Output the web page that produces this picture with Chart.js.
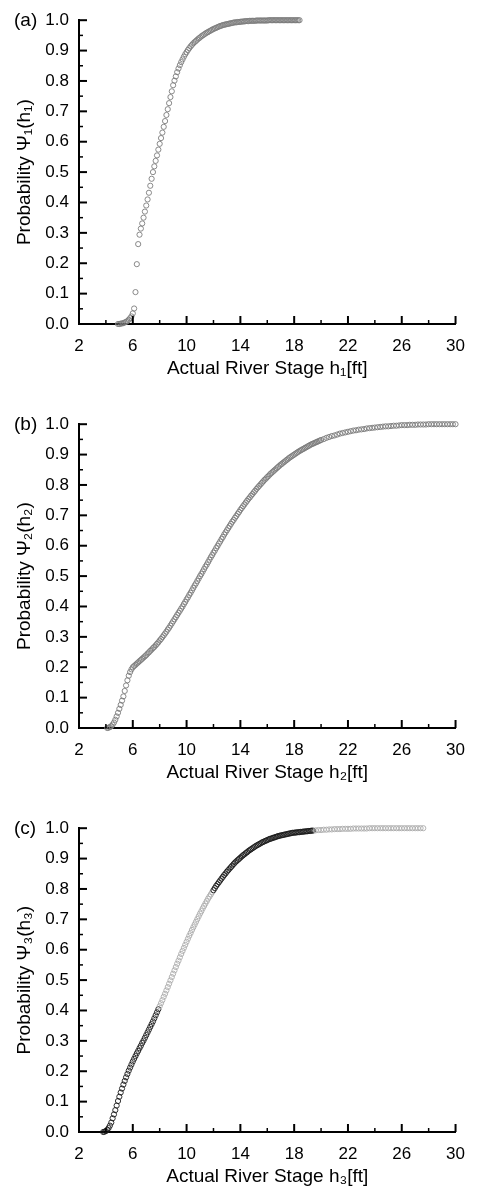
<!DOCTYPE html>
<html><head><meta charset="utf-8">
<script src="https://cdn.jsdelivr.net/npm/chart.js@4.4.0/dist/chart.umd.min.js"></script>
<style>
html,body{margin:0;padding:0;background:#fff;}
#wrap{position:relative;width:477px;height:1189px;overflow:hidden;background:#fff;}
.panel{position:absolute;left:0;width:477px;height:381px;}
canvas{display:block;}
</style></head><body>
<div id="wrap">
<div class="panel" style="top:0px"><canvas id="ca" width="477" height="381"></canvas></div>
<div class="panel" style="top:404px"><canvas id="cb" width="477" height="381"></canvas></div>
<div class="panel" style="top:808px"><canvas id="cc" width="477" height="381"></canvas></div>
</div>
<script>
// ---- tick labels ----
const xTicks = [2, 6, 10, 14, 18, 22, 26, 30];
const yTicks = [0, 0.1, 0.2, 0.3, 0.4, 0.5, 0.6, 0.7, 0.8, 0.9, 1.0];

// ---- panel (a): stage h1 [ft] and probability Psi1 ----
const stageA = [4.9,
  5.0,5.1,5.2,5.3,5.4,5.5,5.6,5.7,5.8,5.9,
  6.0,6.1,6.2,6.3,6.4,6.5,6.6,6.7,6.8,6.9,
  7.0,7.1,7.2,7.3,7.4,7.5,7.6,7.7,7.8,7.9,
  8.0,8.1,8.2,8.3,8.4,8.5,8.6,8.7,8.8,8.9,
  9.0,9.1,9.2,9.3,9.4,9.5,9.6,9.7,9.8,9.9,
  10.0,10.1,10.2,10.3,10.4,10.5,10.6,10.7,10.8,10.9,
  11.0,11.1,11.2,11.3,11.4,11.5,11.6,11.7,11.8,11.9,
  12.0,12.1,12.2,12.3,12.4,12.5,12.6,12.7,12.8,12.9,
  13.0,13.1,13.2,13.3,13.4,13.5,13.6,13.7,13.8,13.9,
  14.0,14.1,14.2,14.3,14.4,14.5,14.6,14.7,14.8,14.9,
  15.0,15.1,15.2,15.3,15.4,15.5,15.6,15.7,15.8,15.9,
  16.0,16.1,16.2,16.3,16.4,16.5,16.6,16.7,16.8,16.9,
  17.0,17.1,17.2,17.3,17.4,17.5,17.6,17.7,17.8,17.9,
  18.0,18.1,18.2,18.3,18.4];
const probA = [0.000,
  0.000,0.001,0.002,0.003,0.005,0.007,0.010,0.014,0.019,0.025,
  0.035,0.051,0.105,0.197,0.263,0.294,0.314,0.331,0.350,0.370,
  0.390,0.410,0.432,0.455,0.478,0.500,0.519,0.537,0.555,0.574,
  0.593,0.612,0.630,0.649,0.668,0.688,0.707,0.727,0.747,0.766,
  0.786,0.801,0.815,0.829,0.841,0.852,0.862,0.871,0.880,0.888,
  0.895,0.902,0.908,0.914,0.919,0.924,0.928,0.932,0.936,0.940,
  0.943,0.947,0.950,0.953,0.956,0.959,0.961,0.964,0.966,0.969,
  0.971,0.973,0.975,0.977,0.979,0.981,0.982,0.984,0.985,0.986,
  0.987,0.988,0.989,0.990,0.991,0.992,0.993,0.993,0.994,0.994,
  0.995,0.995,0.996,0.996,0.997,0.997,0.997,0.998,0.998,0.998,
  0.998,0.998,0.999,0.999,0.999,0.999,0.999,0.999,0.999,0.999,
  0.999,1.0,1.0,1.0,1.0,1.0,1.0,1.0,1.0,1.0,
  1.0,1.0,1.0,1.0,1.0,1.0,1.0,1.0,1.0,1.0,
  1.0,1.0,1.0,1.0,1.0];

// ---- panel (b): stage h2 [ft] and probability Psi2 ----
const stageB = [4.1,4.2,4.3,4.4,4.5,4.6,4.7,4.8,4.9,
  5.0,5.1,5.2,5.3,5.4,5.5,5.6,5.7,5.8,5.9,
  6.0,6.1,6.2,6.3,6.4,6.5,6.6,6.7,6.8,6.9,
  7.0,7.1,7.2,7.3,7.4,7.5,7.6,7.7,7.8,7.9,
  8.0,8.1,8.2,8.3,8.4,8.5,8.6,8.7,8.8,8.9,
  9.0,9.1,9.2,9.3,9.4,9.5,9.6,9.7,9.8,9.9,
  10.0,10.1,10.2,10.3,10.4,10.5,10.6,10.7,10.8,10.9,
  11.0,11.1,11.2,11.3,11.4,11.5,11.6,11.7,11.8,11.9,
  12.0,12.1,12.2,12.3,12.4,12.5,12.6,12.7,12.8,12.9,
  13.0,13.1,13.2,13.3,13.4,13.5,13.6,13.7,13.8,13.9,
  14.0,14.1,14.2,14.3,14.4,14.5,14.6,14.7,14.8,14.9,
  15.0,15.1,15.2,15.3,15.4,15.5,15.6,15.7,15.8,15.9,
  16.0,16.1,16.2,16.3,16.4,16.5,16.6,16.7,16.8,16.9,
  17.0,17.1,17.2,17.3,17.4,17.5,17.6,17.7,17.8,17.9,
  18.0,18.1,18.2,18.3,18.4,18.5,18.6,18.7,18.8,18.9,
  19.0,19.1,19.2,19.3,19.4,19.5,19.6,19.7,19.8,19.9,
  20.0,
  20.2,20.4,20.6,20.8,21.0,21.2,21.4,21.6,21.8,
  22.0,22.2,22.4,22.6,22.8,23.0,23.2,23.4,23.6,23.8,
  24.0,24.2,24.4,24.6,24.8,25.0,25.2,25.4,25.6,25.8,
  26.0,26.2,26.4,26.6,26.8,27.0,27.2,27.4,27.6,27.8,
  28.0,28.2,28.4,28.6,28.8,29.0,29.2,29.4,29.6,29.8,30.0];
const probB = [0.000,0.001,0.003,0.006,0.011,0.018,0.027,0.038,0.050,
  0.063,0.076,0.090,0.104,0.122,0.140,0.157,0.172,0.184,0.193,
  0.200,0.204,0.208,0.212,0.216,0.220,0.224,0.228,0.232,0.236,
  0.240,0.245,0.249,0.254,0.258,0.263,0.267,0.272,0.277,0.282,
  0.288,0.293,0.299,0.305,0.311,0.317,0.324,0.330,0.337,0.344,
  0.351,0.358,0.365,0.372,0.379,0.386,0.393,0.400,0.408,0.415,
  0.423,0.430,0.438,0.445,0.453,0.461,0.469,0.476,0.484,0.492,
  0.500,0.507,0.515,0.523,0.531,0.538,0.546,0.554,0.562,0.569,
  0.577,0.584,0.592,0.599,0.607,0.614,0.622,0.629,0.637,0.644,
  0.651,0.658,0.665,0.672,0.679,0.685,0.692,0.698,0.705,0.711,
  0.718,0.724,0.730,0.736,0.742,0.748,0.754,0.759,0.765,0.770,
  0.776,0.781,0.787,0.792,0.797,0.802,0.807,0.812,0.817,0.821,
  0.826,0.830,0.835,0.839,0.843,0.847,0.851,0.855,0.859,0.863,
  0.867,0.870,0.874,0.877,0.881,0.884,0.888,0.891,0.894,0.897,
  0.900,0.903,0.906,0.909,0.912,0.914,0.917,0.919,0.922,0.924,
  0.927,0.929,0.932,0.934,0.936,0.938,0.940,0.942,0.944,0.946,
  0.948,
  0.951,0.955,0.958,0.961,0.963,0.966,0.969,0.971,0.973,
  0.975,0.977,0.979,0.980,0.982,0.983,0.984,0.986,0.987,0.988,
  0.989,0.990,0.991,0.992,0.993,0.993,0.994,0.995,0.995,0.996,
  0.997,0.997,0.997,0.998,0.998,0.998,0.999,0.999,0.999,0.999,
  1.0,1.0,1.0,1.0,1.0,1.0,1.0,1.0,1.0,1.0,1.0];

// ---- panel (c): stage h3 [ft] and probability Psi3 ----
const stageC = [3.8,3.9,
  4.0,4.1,4.2,4.3,4.4,4.5,4.6,4.7,4.8,4.9,
  5.0,5.1,5.2,5.3,5.4,5.5,5.6,5.7,5.8,5.9,
  6.0,6.1,6.2,6.3,6.4,6.5,6.6,6.7,6.8,6.9,
  7.0,7.1,7.2,7.3,7.4,7.5,7.6,7.7,7.8,7.9,
  8.0,8.1,8.2,8.3,8.4,8.5,8.6,8.7,8.8,8.9,
  9.0,9.1,9.2,9.3,9.4,9.5,9.6,9.7,9.8,9.9,
  10.0,10.1,10.2,10.3,10.4,10.5,10.6,10.7,10.8,10.9,
  11.0,11.1,11.2,11.3,11.4,11.5,11.6,11.7,11.8,11.9,
  12.0,12.1,12.2,12.3,12.4,12.5,12.6,12.7,12.8,12.9,
  13.0,13.1,13.2,13.3,13.4,13.5,13.6,13.7,13.8,13.9,
  14.0,14.1,14.2,14.3,14.4,14.5,14.6,14.7,14.8,14.9,
  15.0,15.1,15.2,15.3,15.4,15.5,15.6,15.7,15.8,15.9,
  16.0,16.1,16.2,16.3,16.4,16.5,16.6,16.7,16.8,16.9,
  17.0,17.1,17.2,17.3,17.4,17.5,17.6,17.7,17.8,17.9,
  18.0,18.1,18.2,18.3,18.4,18.5,18.6,18.7,18.8,18.9,
  19.0,19.1,19.2,19.3,19.4,
  19.6,19.8,20.0,20.2,20.4,20.6,20.8,21.0,21.2,21.4,
  21.6,21.8,22.0,22.2,22.4,22.6,22.8,23.0,23.2,23.4,
  23.6,23.8,24.0,24.2,24.4,24.6,24.8,25.0,25.2,25.4,
  25.6,25.8,26.0,26.2,26.4,26.6,26.8,27.0,27.2,27.4,27.6];
const probC = [0.000,0.001,
  0.003,0.007,0.013,0.021,0.031,0.045,0.058,0.072,0.087,0.102,
  0.116,0.130,0.143,0.156,0.168,0.180,0.191,0.202,0.212,0.222,
  0.232,0.241,0.250,0.259,0.267,0.276,0.284,0.293,0.301,0.310,
  0.319,0.328,0.337,0.346,0.355,0.364,0.374,0.384,0.394,0.404,
  0.414,0.424,0.434,0.445,0.455,0.466,0.477,0.488,0.499,0.510,
  0.521,0.532,0.543,0.554,0.564,0.575,0.586,0.596,0.606,0.616,
  0.626,0.636,0.646,0.655,0.665,0.674,0.683,0.692,0.701,0.710,
  0.719,0.727,0.736,0.744,0.752,0.760,0.768,0.775,0.782,0.789,
  0.796,0.803,0.810,0.816,0.822,0.828,0.834,0.840,0.846,0.851,
  0.857,0.862,0.867,0.872,0.877,0.882,0.887,0.891,0.895,0.899,
  0.903,0.907,0.911,0.914,0.918,0.921,0.925,0.928,0.931,0.934,
  0.937,0.940,0.943,0.945,0.948,0.950,0.953,0.955,0.957,0.959,
  0.961,0.963,0.965,0.966,0.968,0.969,0.971,0.972,0.974,0.975,
  0.976,0.977,0.978,0.979,0.980,0.981,0.982,0.983,0.984,0.985,
  0.985,0.986,0.986,0.987,0.987,0.988,0.988,0.989,0.989,0.990,
  0.990,0.991,0.991,0.992,0.992,
  0.993,0.994,0.994,0.995,0.995,0.996,0.996,0.997,0.997,0.997,
  0.998,0.998,0.998,0.998,0.999,0.999,0.999,0.999,0.999,0.999,
  1.0,1.0,1.0,1.0,1.0,1.0,1.0,1.0,1.0,1.0,
  1.0,1.0,1.0,1.0,1.0,1.0,1.0,1.0,1.0,1.0,1.0];
// stage ranges of panel (c) drawn with dark markers
const darkRangesC = [[3.7, 7.95], [11.95, 19.45]];

const FONT = "'Liberation Sans', Arial, Helvetica, sans-serif";
Chart.defaults.font.family = FONT;
Chart.defaults.color = '#000';

const inTicks = {
  id: 'inTicks',
  afterDraw(chart, args, opts) {
    const {ctx, scales: {x, y}} = chart;
    ctx.save();
    ctx.strokeStyle = '#000';
    const yb = y.getPixelForValue(0);
    const xl = x.getPixelForValue(x.min);
    for (let i = 0; i < xTicks.length; i++) {
      const v = xTicks[i];
      const px = x.getPixelForValue(v);
      ctx.lineWidth = 2;
      ctx.beginPath(); ctx.moveTo(px, yb); ctx.lineTo(px, yb - 8); ctx.stroke();
      if (i < xTicks.length - 1) {
        const m = x.getPixelForValue((v + xTicks[i + 1]) / 2);
        ctx.lineWidth = 1.5;
        ctx.beginPath(); ctx.moveTo(m, yb); ctx.lineTo(m, yb - 4); ctx.stroke();
      }
    }
    for (let i = 0; i < yTicks.length; i++) {
      const v = yTicks[i];
      const py = y.getPixelForValue(v);
      ctx.lineWidth = 2;
      ctx.beginPath(); ctx.moveTo(xl, py); ctx.lineTo(xl + 8, py); ctx.stroke();
      if (i < yTicks.length - 1) {
        const m = y.getPixelForValue((v + yTicks[i + 1]) / 2);
        ctx.lineWidth = 1.5;
        ctx.beginPath(); ctx.moveTo(xl, m); ctx.lineTo(xl + 4, m); ctx.stroke();
      }
    }
    ctx.fillStyle = '#000';
    ctx.font = '19px ' + FONT;
    ctx.textAlign = 'left';
    ctx.textBaseline = 'middle';
    ctx.fillText(opts.label, 14, y.top + 0.5);
    ctx.restore();
  }
};

function makeChart(id, stages, probs, label, sub, colorFn) {
  const n = Math.min(stages.length, probs.length);
  const pts = [];
  for (let i = 0; i < n; i++) pts.push({x: stages[i], y: probs[i]});
  return new Chart(document.getElementById(id), {
    type: 'scatter',
    data: {datasets: [{
      data: pts,
      showLine: false,
      pointStyle: 'circle',
      pointRadius: 2.6,
      pointBorderWidth: 0.9,
      pointBackgroundColor: 'rgba(0,0,0,0)',
      pointBorderColor: colorFn,
      pointHoverRadius: 2.6,
      clip: false
    }]},
    options: {
      responsive: false,
      devicePixelRatio: 1,
      animation: false,
      events: [],
      layout: {padding: {top: 15, right: 12, left: 0, bottom: 0}},
      plugins: {legend: {display: false}, tooltip: {enabled: false}, inTicks: {label: label}},
      scales: {
        x: {
          type: 'linear', min: 2, max: 30,
          afterBuildTicks: s => { s.ticks = xTicks.map(v => ({value: v})); },
          afterFit: s => { s.height = 57; },
          grid: {display: false, drawTicks: false},
          border: {display: true, color: '#000', width: 2},
          ticks: {padding: 12, font: {size: 17}, color: '#000', maxRotation: 0, autoSkip: false},
          title: {display: true, text: 'Actual River Stage h' + sub + '[ft]', font: {size: 19}, color: '#000', padding: {top: 0, bottom: 1}}
        },
        y: {
          type: 'linear', min: 0, max: 1,
          afterBuildTicks: s => { s.ticks = yTicks.map(v => ({value: v})); },
          afterFit: s => { s.width = 79; },
          grid: {display: false, drawTicks: false},
          border: {display: true, color: '#000', width: 2},
          ticks: {padding: 10, font: {size: 17}, color: '#000', callback: v => v.toFixed(1), autoSkip: false},
          title: {display: true, text: 'Probability \u03A8' + sub + '(h' + sub + ')', font: {size: 19}, color: '#000', padding: {top: 13, bottom: 0}}
        }
      }
    },
    plugins: [inTicks]
  });
}

makeChart('ca', stageA, probA, '(a)', '\u2081', () => '#7d7d7d');
makeChart('cb', stageB, probB, '(b)', '\u2082', () => '#7a7a7a');
makeChart('cc', stageC, probC, '(c)', '\u2083', ctx => {
  const r = ctx.raw;
  if (!r) return '#aaaaaa';
  const dark = darkRangesC.some(([a, b]) => r.x >= a && r.x <= b);
  return dark ? '#1a1a1a' : '#ababab';
});
</script>
</body></html>
